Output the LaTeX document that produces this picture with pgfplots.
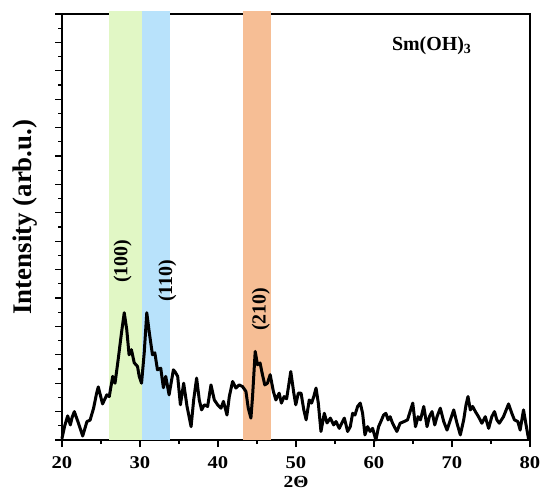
\documentclass[border=0pt]{standalone}
\usepackage{fontspec}
\setmainfont{Liberation Serif}
\usepackage{pgfplots}
\pgfplotsset{compat=1.18}
\definecolor{bandgreen}{HTML}{E1F7C5}
\definecolor{bandblue}{HTML}{B8E2FB}
\definecolor{bandorange}{HTML}{F6BE95}
\begin{document}
\begin{tikzpicture}
\useasboundingbox (-62bp,-51bp) rectangle (483bp,440bp);
\begin{axis}[
  at={(0,0)}, anchor=south west,
  scale only axis, width=468bp, height=426bp,
  xmin=20, xmax=80, ymin=0, ymax=15,
  clip=false,
  axis line style={line width=1.3bp},
  xtick={20,30,...,80}, minor x tick num=1,
  ytick={0,1,...,15}, minor y tick num=1,
  yticklabels={},
  tick align=outside,
  xtick pos=bottom, ytick pos=left,
  major tick length=7bp, minor tick length=4bp,
  every tick/.style={black, line width=1.1bp},
  xticklabel={\scalebox{1.15}[1]{\pgfmathprintnumber{\tick}}},
  /pgf/number format/assume math mode=true,
  xticklabel style={font=\fontsize{18}{20}\selectfont\bfseries, inner sep=0pt, yshift=-9bp},
  xlabel={\scalebox{1.15}[1]{2Θ}},
  xlabel style={at={(axis description cs:0.5,0)}, anchor=north, inner sep=0pt, yshift=-36bp, font=\fontsize{17}{20}\selectfont\bfseries},
  ylabel={Intensity (arb.u.)},
  ylabel style={at={(axis description cs:-0.079,0.523)}, anchor=center, inner sep=0pt, font=\fontsize{27}{30}\selectfont\bfseries},
]
\fill[bandgreen] (axis cs:26,0) rectangle (axis cs:30.2,15.12);
\fill[bandblue] (axis cs:30.2,0) rectangle (axis cs:33.8,15.12);
\fill[bandorange] (axis cs:43.2,0) rectangle (axis cs:46.8,15.12);
\addplot[black, line width=3bp, line join=round, line cap=round, no marks] coordinates {
(20.0,0.06) (20.35,0.5) (20.73,0.85) (21.07,0.53) (21.3,0.8) (21.58,1.0)
(22.1,0.6) (22.65,0.14) (23.2,0.65) (23.6,0.7) (24.05,1.12) (24.4,1.6)
(24.65,1.87) (24.9,1.6) (25.2,1.27) (25.75,1.59) (26.06,1.53) (26.5,2.24)
(26.8,2.0) (27.2,2.83) (27.63,3.78) (27.98,4.48) (28.3,3.89) (28.6,3.0)
(28.9,3.18) (29.26,2.72) (29.68,2.59) (29.9,2.24) (30.2,2.0) (30.54,3.07)
(30.87,4.48) (31.2,3.77) (31.6,3.0) (31.9,3.07) (32.24,2.47) (32.66,2.53)
(33.0,1.84) (33.3,2.24) (33.73,1.59) (34.28,2.47) (34.5,2.4) (34.83,2.24)
(35.18,1.24) (35.6,2.0) (36.03,1.18) (36.55,0.47) (36.88,1.41) (37.26,2.18)
(37.6,1.41) (37.9,1.06) (38.25,1.24) (38.67,1.18) (39.1,1.94) (39.53,1.41)
(39.95,1.24) (40.38,1.12) (40.7,1.36) (41.15,0.88) (41.45,1.53) (41.87,2.06)
(42.3,1.83) (42.72,1.94) (43.15,1.88) (43.58,1.71) (43.88,1.12) (44.22,0.77)
(44.43,1.53) (44.77,3.12) (45.06,2.65) (45.4,2.71) (45.7,2.3) (46.0,1.94)
(46.34,2.0) (46.69,2.3) (47.1,1.71) (47.42,1.41) (47.84,1.65) (48.13,1.3)
(48.48,1.53) (48.8,1.45) (49.33,2.41) (49.72,1.65) (49.97,1.24) (50.3,1.65)
(50.65,1.65) (51.0,1.06) (51.3,0.71) (51.7,1.41) (52.0,1.3) (52.28,1.53)
(52.57,1.83) (52.86,1.3) (53.2,0.3) (53.63,0.94) (53.98,0.6) (54.4,0.77)
(54.83,0.53) (55.13,0.65) (55.55,0.41) (55.86,0.59) (56.2,0.77) (56.62,0.3)
(56.96,0.47) (57.26,0.94) (57.56,0.88) (57.9,1.18) (58.24,1.3) (58.54,0.94)
(58.84,0.18) (59.18,0.47) (59.5,0.3) (59.82,0.41) (60.24,0.0) (60.59,0.47)
(60.88,0.65) (61.23,0.88) (61.52,0.94) (61.8,0.71) (62.07,0.82) (62.38,0.59)
(62.93,0.3) (63.35,0.59) (63.86,0.65) (64.3,0.71) (64.63,1.0) (64.97,1.3)
(65.32,0.47) (65.65,0.82) (65.96,0.71) (66.38,1.18) (66.8,0.47) (67.1,0.82)
(67.44,1.0) (67.79,0.53) (68.08,0.82) (68.5,1.12) (68.94,0.65) (69.36,0.35)
(69.8,0.71) (70.22,1.06) (70.64,0.59) (71.07,0.18) (71.5,0.71) (71.8,1.24)
(72.05,1.53) (72.35,1.06) (72.65,1.18) (73.0,1.0) (73.4,0.82) (73.83,0.59)
(74.27,0.82) (74.7,0.41) (75.1,0.82) (75.45,1.0) (75.75,0.71) (76.06,0.59)
(76.6,0.82) (77.25,1.27) (77.67,0.94) (78.0,0.71) (78.44,0.65) (78.74,0.35)
(79.17,1.06) (79.46,0.59) (79.8,0.06)
};
\node[rotate=90, font=\fontsize{20}{22}\selectfont\bfseries, inner sep=0pt] at (axis cs:27.76,6.3) {(100)};
\node[rotate=90, font=\fontsize{20}{22}\selectfont\bfseries, inner sep=0pt] at (axis cs:33.5,5.6) {(110)};
\node[rotate=90, font=\fontsize{20}{22}\selectfont\bfseries, inner sep=0pt] at (axis cs:45.5,4.6) {(210)};
\node[font=\fontsize{20}{22}\selectfont\bfseries, inner sep=0pt] at (axis cs:67.4,13.9) {Sm(OH)\textsubscript{3}};
\end{axis}
\end{tikzpicture}
\end{document}
